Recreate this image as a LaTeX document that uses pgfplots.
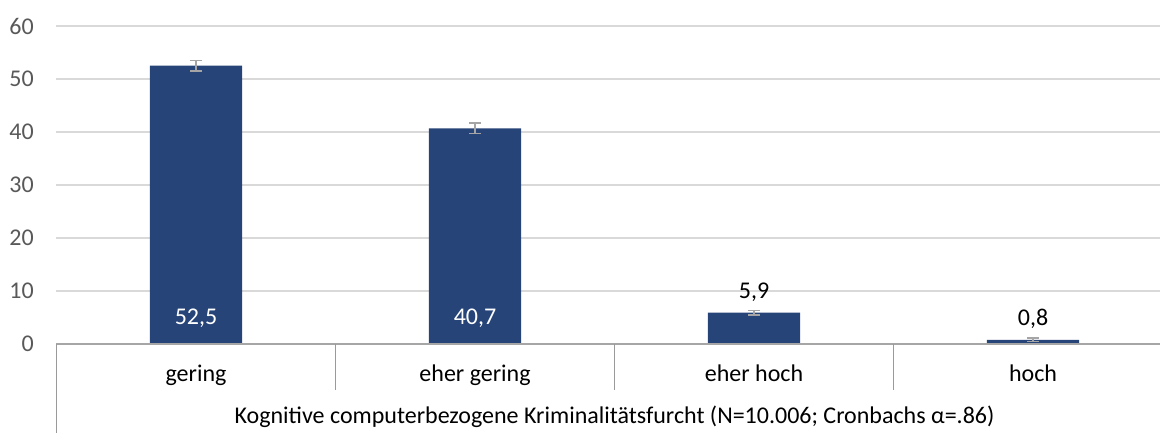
\documentclass[border=0pt]{standalone}
\usepackage{pgfplots}
\pgfplotsset{compat=1.18}
\usepackage{pgfplotstable}
\usepackage{fontspec}
\setmainfont{Carlito}
\definecolor{barblue}{HTML}{264478}
\definecolor{gridgray}{HTML}{D9D9D9}
\definecolor{axisgray}{HTML}{A6A6A6}
\definecolor{sepgray}{HTML}{9A9A9A}
\definecolor{ticktext}{HTML}{595959}
\definecolor{errgray}{HTML}{A5A5A5}
\newcommand\lblfont{\fontsize{24}{28}\selectfont}
\pgfplotstableread{
x y err
0 52.5 1.0
1 40.7 1.0
2 5.9 0.45
3 0.8 0.3
}\datatable
\pgfplotstableread{
x y lab
0 0 52,5
1 0 40,7
}\insidelabels
\pgfplotstableread{
x y lab
2 5.9 5,9
3 0.8 0,8
}\outsidelabels
\begin{document}
\begin{tikzpicture}
\begin{axis}[
 at={(0,0)}, anchor=south west,
 scale only axis, width=1103.5pt, height=318pt,
 xmin=-0.5, xmax=3.455, ymin=0, ymax=60,
 ytick={0,10,...,60},
 xtick={0,1,2,3},
 xticklabels={gering, eher gering, eher hoch, hoch},
 major tick length=0pt,
 ymajorgrids, grid style={gridgray, line width=1.3pt},
 axis line style={draw=none},
 /pgf/number format/assume math mode=true,
 yticklabel style={font=\lblfont, text=ticktext, anchor=east, inner sep=0pt, xshift=-22.5pt},
 xticklabel style={font=\lblfont, text=black, anchor=base, inner sep=0pt, yshift=-38pt},
 clip=false,
]
\addplot[ybar, bar width=0.33, fill=barblue, draw=none,
  error bars/.cd, y dir=both, y explicit,
  error bar style={errgray, line width=1.5pt},
  error mark options={errgray, line width=1.5pt, mark size=6pt, rotate=90}]
  table[x=x, y=y, y error=err] {\datatable};
\addplot[draw=none, mark=none, nodes near coords, point meta=explicit symbolic,
  nodes near coords style={anchor=base, yshift=19pt, text=white, font=\lblfont}]
  table[x=x, y=y, meta=lab] {\insidelabels};
\addplot[draw=none, mark=none, nodes near coords, point meta=explicit symbolic,
  nodes near coords style={anchor=base, yshift=14.5pt, text=black, font=\lblfont}]
  table[x=x, y=y, meta=lab] {\outsidelabels};
\draw[axisgray, line width=1.3pt] (axis cs:-0.5,0) -- (axis cs:3.455,0);
\draw[sepgray, line width=1pt] (axis cs:-0.5,0) -- ++(0pt,-89pt);
\draw[sepgray, line width=1pt] (axis cs:0.5,0) -- ++(0pt,-46pt);
\draw[sepgray, line width=1pt] (axis cs:1.5,0) -- ++(0pt,-46pt);
\draw[sepgray, line width=1pt] (axis cs:2.5,0) -- ++(0pt,-46pt);
\node[anchor=base, font=\lblfont, inner sep=0pt] at ([yshift=-80pt]axis cs:1.5,0) {Kognitive computerbezogene Kriminalitätsfurcht (N=10.006; Cronbachs α=.86)};
\end{axis}
\pgfresetboundingbox
\useasboundingbox (-56.5pt,-89pt) rectangle (1103.5pt,344pt);
\end{tikzpicture}
\end{document}
